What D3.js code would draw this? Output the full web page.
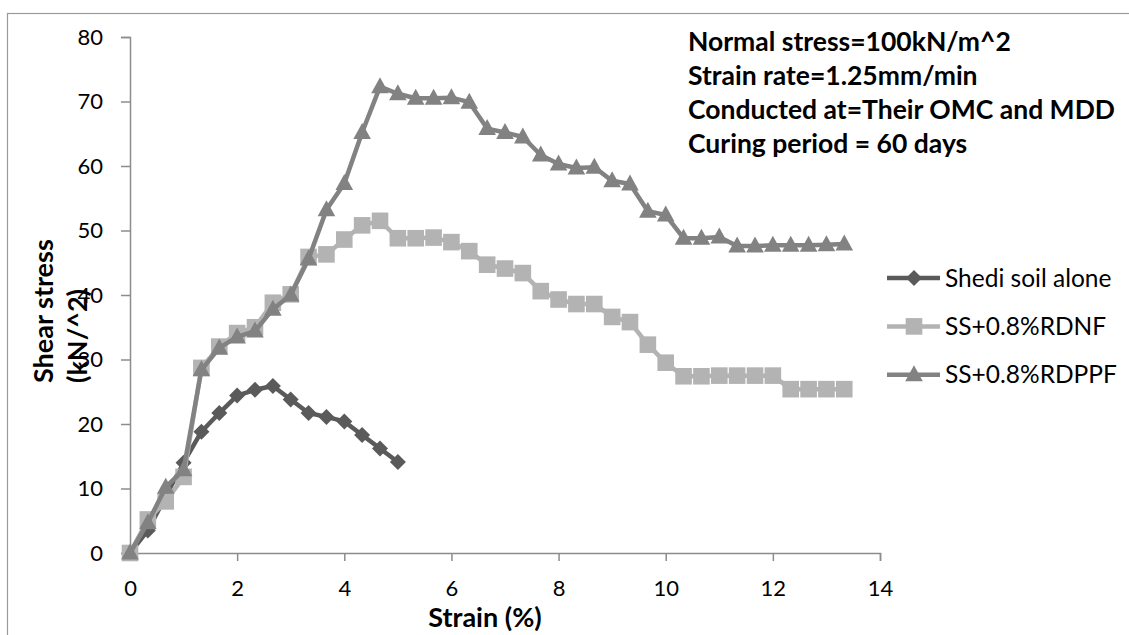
<!DOCTYPE html>
<html>
<head>
<meta charset="utf-8">
<script src="https://cdn.jsdelivr.net/npm/d3@7"></script>
<style>
  html, body { margin: 0; padding: 0; background: #fff; }
  svg { display: block; font-family: Lato, "Liberation Sans", sans-serif; }
</style>
</head>
<body>
<svg id="chart" width="1129" height="635"></svg>
<script>
// Strain readings (%) shared by all three tests
const strain = [0, 0.333, 0.667, 1, 1.333, 1.667, 2, 2.333, 2.667, 3, 3.333, 3.667, 4, 4.333, 4.667,
  5, 5.333, 5.667, 6, 6.333, 6.667, 7, 7.333, 7.667, 8, 8.333, 8.667, 9, 9.333, 9.667, 10,
  10.333, 10.667, 11, 11.333, 11.667, 12, 12.333, 12.667, 13, 13.333];

// Shear stress (kN/m^2) for each mix
const shediSoil = [0, 3.5, 8.8, 14.0, 18.8, 21.7, 24.4, 25.3, 25.9, 23.8, 21.7, 21.1, 20.4, 18.3, 16.2, 14.1];
const ssRDNF = [0, 5.2, 8.0, 11.8, 28.7, 32.0, 34.1, 35.0, 38.8, 40.1, 45.9, 46.3, 48.6, 50.8, 51.5,
  48.8, 48.8, 48.9, 48.2, 46.8, 44.7, 44.1, 43.4, 40.6, 39.3, 38.6, 38.6, 36.6, 35.8, 32.3, 29.5,
  27.4, 27.4, 27.5, 27.5, 27.5, 27.5, 25.4, 25.4, 25.4, 25.4];
const ssRDPPF = [0, 4.7, 10.2, 12.9, 28.4, 31.8, 33.5, 34.4, 37.8, 40.0, 45.6, 53.2, 57.3, 65.2, 72.3,
  71.2, 70.5, 70.5, 70.6, 69.9, 65.8, 65.2, 64.5, 61.7, 60.3, 59.7, 59.8, 57.7, 57.2, 53.0, 52.4,
  48.8, 48.8, 49.0, 47.6, 47.6, 47.7, 47.7, 47.7, 47.8, 47.9];

const seriesNames = ["Shedi soil alone", "SS+0.8%RDNF", "SS+0.8%RDPPF"];
const xTicks = [0, 2, 4, 6, 8, 10, 12, 14];
const yTicks = [0, 10, 20, 30, 40, 50, 60, 70, 80];
const notes = ["Normal stress=100kN/m^2", "Strain rate=1.25mm/min",
  "Conducted at=Their OMC and MDD", "Curing period = 60 days"];

const series = [
  { name: seriesNames[0], values: shediSoil, color: "#5a5a5a", marker: "diamond" },
  { name: seriesNames[1], values: ssRDNF, color: "#b3b3b3", marker: "square" },
  { name: seriesNames[2], values: ssRDPPF, color: "#828282", marker: "triangle" }
];

const svg = d3.select("#chart");
const axisColor = "#8c8c8c";

// outer chart frame
svg.append("rect")
  .attr("x", 7.5).attr("y", 13.5)
  .attr("width", 1140).attr("height", 640)
  .attr("fill", "none").attr("stroke", "#9a9a9a").attr("stroke-width", 1.2);

const x = d3.scaleLinear().domain([0, 14]).range([130, 880]);
const y = d3.scaleLinear().domain([0, 80]).range([553, 37]);

// marker shapes
function markerPath(kind) {
  if (kind === "diamond") {
    const r = 8;
    return `M0,${-r}L${r},0L0,${r}L${-r},0Z`;
  }
  if (kind === "square") {
    const h = 8.3;
    return `M${-h},${-h}H${h}V${h}H${-h}Z`;
  }
  const w = 8.8, up = 9.5, down = 6.5;
  return `M0,${-up}L${w},${down}L${-w},${down}Z`;
}

// axes
const yAxis = svg.append("g")
  .attr("transform", `translate(${x(0)},0)`)
  .call(d3.axisLeft(y).tickValues(yTicks).tickSize(9).tickPadding(18).tickFormat(d3.format("d")));
const xAxis = svg.append("g")
  .attr("transform", `translate(0,${y(0)})`)
  .call(d3.axisBottom(x).tickValues(xTicks).tickSize(8).tickPadding(19).tickFormat(d3.format("d")));
[yAxis, xAxis].forEach(g => {
  g.select(".domain").attr("stroke", axisColor).attr("stroke-width", 1.5);
  g.selectAll(".tick line").attr("stroke", axisColor).attr("stroke-width", 1.5);
  g.selectAll(".tick text").attr("fill", "#000").style("font-size", "22px")
    .style("font-family", "Lato, sans-serif");
});

// series lines and markers
const line = d3.line().x((d, i) => x(strain[i])).y(d => y(d));
series.forEach(s => {
  const g = svg.append("g");
  g.append("path")
    .attr("d", line(s.values))
    .attr("fill", "none")
    .attr("stroke", s.color)
    .attr("stroke-width", 4.5)
    .attr("stroke-linejoin", "round");
  g.selectAll("path.m")
    .data(s.values)
    .join("path")
    .attr("class", "m")
    .attr("d", markerPath(s.marker))
    .attr("transform", (d, i) => `translate(${x(strain[i])},${y(d)})`)
    .attr("fill", s.color);
});

// axis titles
svg.append("text")
  .attr("x", 485).attr("y", 627)
  .attr("text-anchor", "middle")
  .style("font-size", "27px").style("font-weight", "bold")
  .text("Strain (%)");

const yTitle = svg.append("text")
  .attr("transform", "translate(0,383) rotate(-90)")
  .style("font-size", "27px").style("font-weight", "bold");
yTitle.append("tspan").attr("x", 0).attr("y", 53).text("Shear stress");
yTitle.append("tspan").attr("x", 0).attr("y", 87).text("(kN/^2)");

// test conditions
svg.append("g").selectAll("text")
  .data(notes)
  .join("text")
  .attr("x", 688)
  .attr("y", (d, i) => 51 + i * 34)
  .style("font-size", "26.5px").style("font-weight", "bold")
  .text(d => d);

// legend
const legend = svg.append("g");
series.forEach((s, i) => {
  const cy = 278 + i * 48.4;
  legend.append("line")
    .attr("x1", 887).attr("x2", 940).attr("y1", cy).attr("y2", cy)
    .attr("stroke", s.color).attr("stroke-width", 4.5);
  legend.append("path")
    .attr("d", markerPath(s.marker))
    .attr("transform", `translate(914,${cy})`)
    .attr("fill", s.color);
  legend.append("text")
    .attr("x", 945).attr("y", cy)
    .attr("dy", "0.35em")
    .style("font-size", "24.5px")
    .text(s.name);
});
</script>
</body>
</html>
